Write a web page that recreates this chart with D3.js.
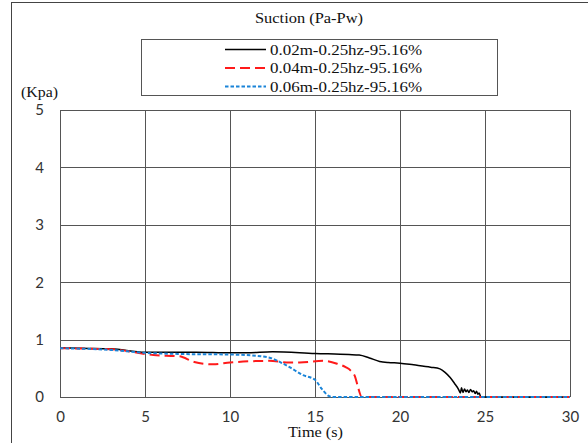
<!DOCTYPE html>
<html><head><meta charset="utf-8">
<script src="https://cdn.jsdelivr.net/npm/d3@7"></script>
<style>body{margin:0;background:#fff}svg{display:block}</style>
</head><body>
<svg id="c" width="588" height="443"></svg>
<script>
const title = "Suction (Pa-Pw)";
const yUnit = "(Kpa)";
const xTitle = "Time (s)";
const seriesNames = ["0.02m-0.25hz-95.16%", "0.04m-0.25hz-95.16%", "0.06m-0.25hz-95.16%"];
const xTicks = [0, 5, 10, 15, 20, 25, 30];
const yTicks = [0, 1, 2, 3, 4, 5];

const s1t = [0, 1.2, 3, 5, 8, 10, 11, 12.5, 15, 17, 17.6, 18.2, 18.8, 19.3, 20, 20.8, 21.8, 22.35, 22.65, 22.95, 23.2, 23.45, 23.55, 23.62, 23.7, 23.8, 23.88, 23.97, 24.05, 24.15, 24.25, 24.33, 24.42, 24.5, 24.58, 24.66, 24.75, 27, 30];
const s1v = [0.86, 0.85, 0.84, 0.78, 0.78, 0.77, 0.77, 0.79, 0.76, 0.74, 0.73, 0.68, 0.62, 0.60, 0.59, 0.56, 0.52, 0.49, 0.43, 0.34, 0.24, 0.13, 0.07, 0.16, 0.08, 0.14, 0.09, 0.12, 0.08, 0.13, 0.09, 0.11, 0.06, 0.10, 0.05, 0.07, 0, 0, 0];

const s2t = [0, 3, 5, 5.5, 7, 7.9, 9, 10, 12.3, 13.5, 14.1, 15.5, 16.3, 16.8, 17.1, 17.35, 17.55, 17.75, 20, 25, 30];
const s2v = [0.85, 0.83, 0.75, 0.73, 0.71, 0.61, 0.57, 0.60, 0.63, 0.60, 0.60, 0.63, 0.58, 0.52, 0.46, 0.36, 0.15, 0, 0, 0, 0];

const s3t = [0, 3, 5, 7, 10, 11.8, 12.5, 13, 13.5, 14.3, 15, 15.4, 15.8, 16, 20, 25, 30];
const s3v = [0.85, 0.82, 0.77, 0.75, 0.74, 0.71, 0.67, 0.60, 0.52, 0.38, 0.30, 0.14, 0.02, 0, 0, 0, 0];

const colors = ["#000000", "#ff1a1a", "#1a84d8"];
const dashes = [null, "10,5", "3.5,2"];
const widths = [1.5, 2, 2];

const svg = d3.select("#c");
const serif = "Liberation Serif";
const sans = "Lato";

// outer border
svg.append("rect").attr("x", 11.5).attr("y", 2.5).attr("width", 590).attr("height", 460)
  .attr("fill", "none").attr("stroke", "#444").attr("stroke-width", 1);

const x = d3.scaleLinear().domain([0, 30]).range([60, 570]);
const y = d3.scaleLinear().domain([0, 5]).range([397, 110]);

// grid
const g = svg.append("g");
g.selectAll(".vg").data(xTicks).join("line")
  .attr("x1", d => Math.round(x(d)) + 0.5).attr("x2", d => Math.round(x(d)) + 0.5)
  .attr("y1", y(5)).attr("y2", y(0)).attr("stroke", "#555").attr("stroke-width", 1);
g.selectAll(".hg").data(yTicks).join("line")
  .attr("y1", d => Math.round(y(d)) + 0.5).attr("y2", d => Math.round(y(d)) + 0.5)
  .attr("x1", x(0)).attr("x2", x(30)).attr("stroke", "#555").attr("stroke-width", 1);

// axes via d3
const xAxis = svg.append("g").attr("transform", `translate(0,${y(0)})`)
  .call(d3.axisBottom(x).tickValues(xTicks).tickFormat(d3.format("d")).tickSize(0).tickPadding(14));
xAxis.select(".domain").remove();
xAxis.selectAll("text").attr("font-family", sans).attr("font-size", 15).attr("fill", "#333");

const yAxis = svg.append("g").attr("transform", `translate(${x(0)},0)`)
  .call(d3.axisLeft(y).tickValues(yTicks).tickFormat(d3.format("d")).tickSize(0).tickPadding(16));
yAxis.select(".domain").remove();
yAxis.selectAll("text").attr("font-family", sans).attr("font-size", 15).attr("fill", "#333");

// series
const all = [[s1t, s1v], [s2t, s2v], [s3t, s3v]];
const line = d3.line().x(d => x(d[0])).y(d => y(d[1])).curve(d3.curveMonotoneX);
all.forEach((s, i) => {
  const pts = s[0].map((t, k) => [t, s[1][k]]);
  const p = svg.append("path").attr("d", line(pts)).attr("fill", "none")
    .attr("stroke", colors[i]).attr("stroke-width", widths[i]);
  if (dashes[i]) p.attr("stroke-dasharray", dashes[i]);
});

// title
svg.append("text").attr("x", 309).attr("y", 23).attr("text-anchor", "middle")
  .attr("font-family", serif).attr("font-size", 14).attr("fill", "#111")
  .attr("textLength", 108).attr("lengthAdjust", "spacingAndGlyphs").text(title);

// y unit
svg.append("text").attr("x", 21).attr("y", 97)
  .attr("font-family", serif).attr("font-size", 14).attr("fill", "#111")
  .attr("textLength", 37).attr("lengthAdjust", "spacingAndGlyphs").text(yUnit);

// x title
svg.append("text").attr("x", 288).attr("y", 437)
  .attr("font-family", serif).attr("font-size", 14).attr("fill", "#111")
  .attr("textLength", 55).attr("lengthAdjust", "spacingAndGlyphs").text(xTitle);

// legend
svg.append("rect").attr("x", 141.5).attr("y", 39.5).attr("width", 356).attr("height", 56)
  .attr("fill", "#fff").attr("stroke", "#555").attr("stroke-width", 1);
const rowsY = [49.5, 68, 86.5];
seriesNames.forEach((n, i) => {
  const l = svg.append("line").attr("x1", 225).attr("x2", 266).attr("y1", rowsY[i]).attr("y2", rowsY[i])
    .attr("stroke", colors[i]).attr("stroke-width", widths[i]);
  if (dashes[i]) l.attr("stroke-dasharray", dashes[i]);
  svg.append("text").attr("x", 270).attr("y", rowsY[i] + 5)
    .attr("font-family", serif).attr("font-size", 14).attr("fill", "#111")
    .attr("textLength", 152).attr("lengthAdjust", "spacingAndGlyphs").text(n);
});
</script>
</body></html>
